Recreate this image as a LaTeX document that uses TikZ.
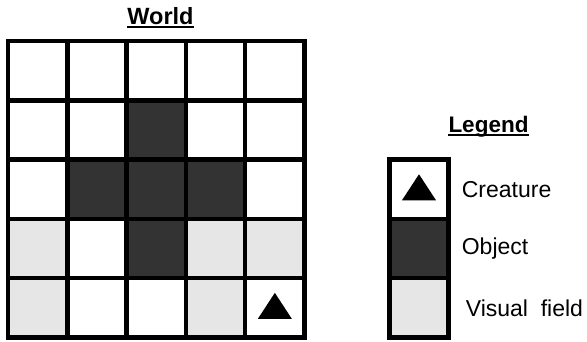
\documentclass[tikz,border=0pt]{standalone}
\usepackage{fontspec}
\setmainfont{Liberation Sans}
\usetikzlibrary{positioning}
\definecolor{objgray}{HTML}{333333}
\definecolor{viewgray}{HTML}{E6E6E6}

\begin{document}
\begin{tikzpicture}[x=1pt,y=-1pt,
 cell/.style={draw=black,line width=4.5pt,minimum size=59.3pt,inner sep=0pt,outer sep=0pt},
 blank/.style={cell,fill=white},
 object/.style={cell,fill=objgray},
 visual/.style={cell,fill=viewgray},
 heading/.style={font=\fontsize{22.5}{26}\selectfont\bfseries,inner sep=0pt,anchor=base},
 legtext/.style={font=\fontsize{23}{27}\selectfont,inner sep=0pt,anchor=west},
 uline/.style={line width=1.8pt}]
 \useasboundingbox (0,0) rectangle (587,341);
 \node[heading,font=\fontsize{23.5}{27}\selectfont\bfseries] (world) at (160.5,24) {World};
 \draw[uline] ([yshift=-3pt]world.base west) -- ([yshift=-3pt]world.base east);
 % world grid, rows from the top
 \foreach \row [count=\r] in {{blank,blank,blank,blank,blank},
   {blank,blank,object,blank,blank},
   {blank,object,object,object,blank},
   {visual,blank,object,visual,visual},
   {visual,blank,blank,visual,blank}}
  \foreach \kind [count=\c] in \row
   \node[\kind] (c-\r-\c) at ({8+(\c-0.5)*59.3},{41+(\r-0.5)*59.3}) {};
 \fill (c-5-5.center) ++(-17,11) -- ++(34,0) -- ++(-17,-26) -- cycle;
 % legend
 \node[heading] (legend) at (488.5,132) {Legend};
 \draw[uline] ([yshift=-3pt]legend.base west) -- ([yshift=-3pt]legend.base east);
 \node[blank] (lcre) at (419,{41+2.5*59.3}) {};
 \node[object,below=0pt of lcre] (lobj) {};
 \node[visual,below=0pt of lobj] (lvis) {};
 \fill (lcre.center) ++(-17,11) -- ++(34,0) -- ++(-17,-26) -- cycle;
 \node[legtext,right=13pt of lcre] (tcre) {Creature};
 \node[legtext,right=13pt of lobj] (tobj) {Object};
 \node[legtext,right=17pt of lvis] (tvis) {Visual\ \ field};
\end{tikzpicture}
\end{document}
